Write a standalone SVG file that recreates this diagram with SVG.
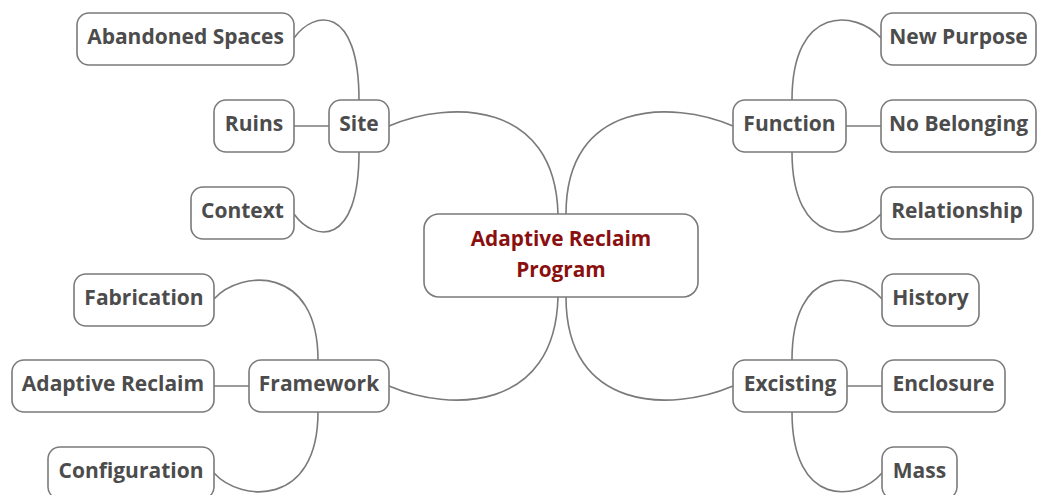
<svg xmlns="http://www.w3.org/2000/svg" width="1038" height="495" viewBox="0 0 1038 495">
  <style>
    .box { fill: #ffffff; stroke: #7a7a7a; stroke-width: 1.6; }
    .lbl { font-family: "Open Sans", "Noto Sans", "Liberation Sans", sans-serif; font-weight: 700; font-size: 21px; fill: #4c4c4c; text-anchor: middle; }
    .root { fill: #8a1010; font-size: 20.8px; }
    .link { fill: none; stroke: #7a7a7a; stroke-width: 1.6; }
  </style>
  <rect width="1038" height="495" fill="#ffffff"/>

  <!-- connectors -->
  <g id="connectors">
    <!-- root to main branches -->
    <path class="link" d="M389,126 C450,100 555,100 558,214"/>
    <path class="link" d="M733,126 C672,100 566,100 566,214"/>
    <path class="link" d="M389,386 C450,412 555,412 558,297"/>
    <path class="link" d="M733,386 C672,412 566,412 566,297"/>
    <!-- Site -->
    <path class="link" d="M359,100 C359,4 314,10 294,38"/>
    <path class="link" d="M294,126 L329,126"/>
    <path class="link" d="M359,152 C359,248 314,242 294,214"/>
    <!-- Function -->
    <path class="link" d="M792,100 C792,4 856,10 881,38"/>
    <path class="link" d="M846,126 L881,126"/>
    <path class="link" d="M792,152 C792,248 856,242 881,214"/>
    <!-- Framework -->
    <path class="link" d="M318,360 C318,264 240,270 214,299"/>
    <path class="link" d="M214,386 L249,386"/>
    <path class="link" d="M318,412 C318,508 240,502 214,473"/>
    <!-- Excisting -->
    <path class="link" d="M792,360 C792,264 857,270 882,299"/>
    <path class="link" d="M847,386 L882,386"/>
    <path class="link" d="M792,412 C792,508 857,502 882,473"/>
  </g>

  <!-- central topic -->
  <g id="node-root">
    <rect class="box" x="424" y="214" width="274" height="83" rx="15"/>
    <text class="lbl root" x="561" y="246">Adaptive Reclaim</text>
    <text class="lbl root" x="561" y="277">Program</text>
  </g>

  <!-- Site branch -->
  <g id="node-site">
    <rect class="box" x="329" y="100" width="60" height="52" rx="12"/>
    <text class="lbl" x="359" y="131">Site</text>
  </g>
  <g id="node-abandoned-spaces">
    <rect class="box" x="77" y="13" width="217" height="52" rx="12"/>
    <text class="lbl" x="185.5" y="44">Abandoned Spaces</text>
  </g>
  <g id="node-ruins">
    <rect class="box" x="214" y="100" width="80" height="52" rx="12"/>
    <text class="lbl" x="254" y="131">Ruins</text>
  </g>
  <g id="node-context">
    <rect class="box" x="191" y="187" width="103" height="52" rx="12"/>
    <text class="lbl" x="242.5" y="218">Context</text>
  </g>

  <!-- Function branch -->
  <g id="node-function">
    <rect class="box" x="733" y="100" width="113" height="52" rx="12"/>
    <text class="lbl" x="789.5" y="131">Function</text>
  </g>
  <g id="node-new-purpose">
    <rect class="box" x="881" y="13" width="155" height="52" rx="12"/>
    <text class="lbl" x="958.5" y="44">New Purpose</text>
  </g>
  <g id="node-no-belonging">
    <rect class="box" x="881" y="100" width="155" height="52" rx="12"/>
    <text class="lbl" x="958.5" y="131">No Belonging</text>
  </g>
  <g id="node-relationship">
    <rect class="box" x="881" y="187" width="152" height="52" rx="12"/>
    <text class="lbl" x="957" y="218">Relationship</text>
  </g>

  <!-- Framework branch -->
  <g id="node-framework">
    <rect class="box" x="249" y="360" width="140" height="52" rx="12"/>
    <text class="lbl" x="319" y="391">Framework</text>
  </g>
  <g id="node-fabrication">
    <rect class="box" x="74" y="274" width="140" height="52" rx="12"/>
    <text class="lbl" x="144" y="305">Fabrication</text>
  </g>
  <g id="node-adaptive-reclaim">
    <rect class="box" x="12" y="360" width="202" height="52" rx="12"/>
    <text class="lbl" x="113" y="391">Adaptive Reclaim</text>
  </g>
  <g id="node-configuration">
    <rect class="box" x="48" y="447" width="166" height="52" rx="12"/>
    <text class="lbl" x="131" y="478">Configuration</text>
  </g>

  <!-- Excisting branch -->
  <g id="node-excisting">
    <rect class="box" x="733" y="360" width="114" height="52" rx="12"/>
    <text class="lbl" x="790" y="391">Excisting</text>
  </g>
  <g id="node-history">
    <rect class="box" x="882" y="274" width="97" height="52" rx="12"/>
    <text class="lbl" x="930.5" y="305">History</text>
  </g>
  <g id="node-enclosure">
    <rect class="box" x="882" y="360" width="123" height="52" rx="12"/>
    <text class="lbl" x="943.5" y="391">Enclosure</text>
  </g>
  <g id="node-mass">
    <rect class="box" x="882" y="447" width="75" height="52" rx="12"/>
    <text class="lbl" x="919.5" y="478">Mass</text>
  </g>
</svg>
